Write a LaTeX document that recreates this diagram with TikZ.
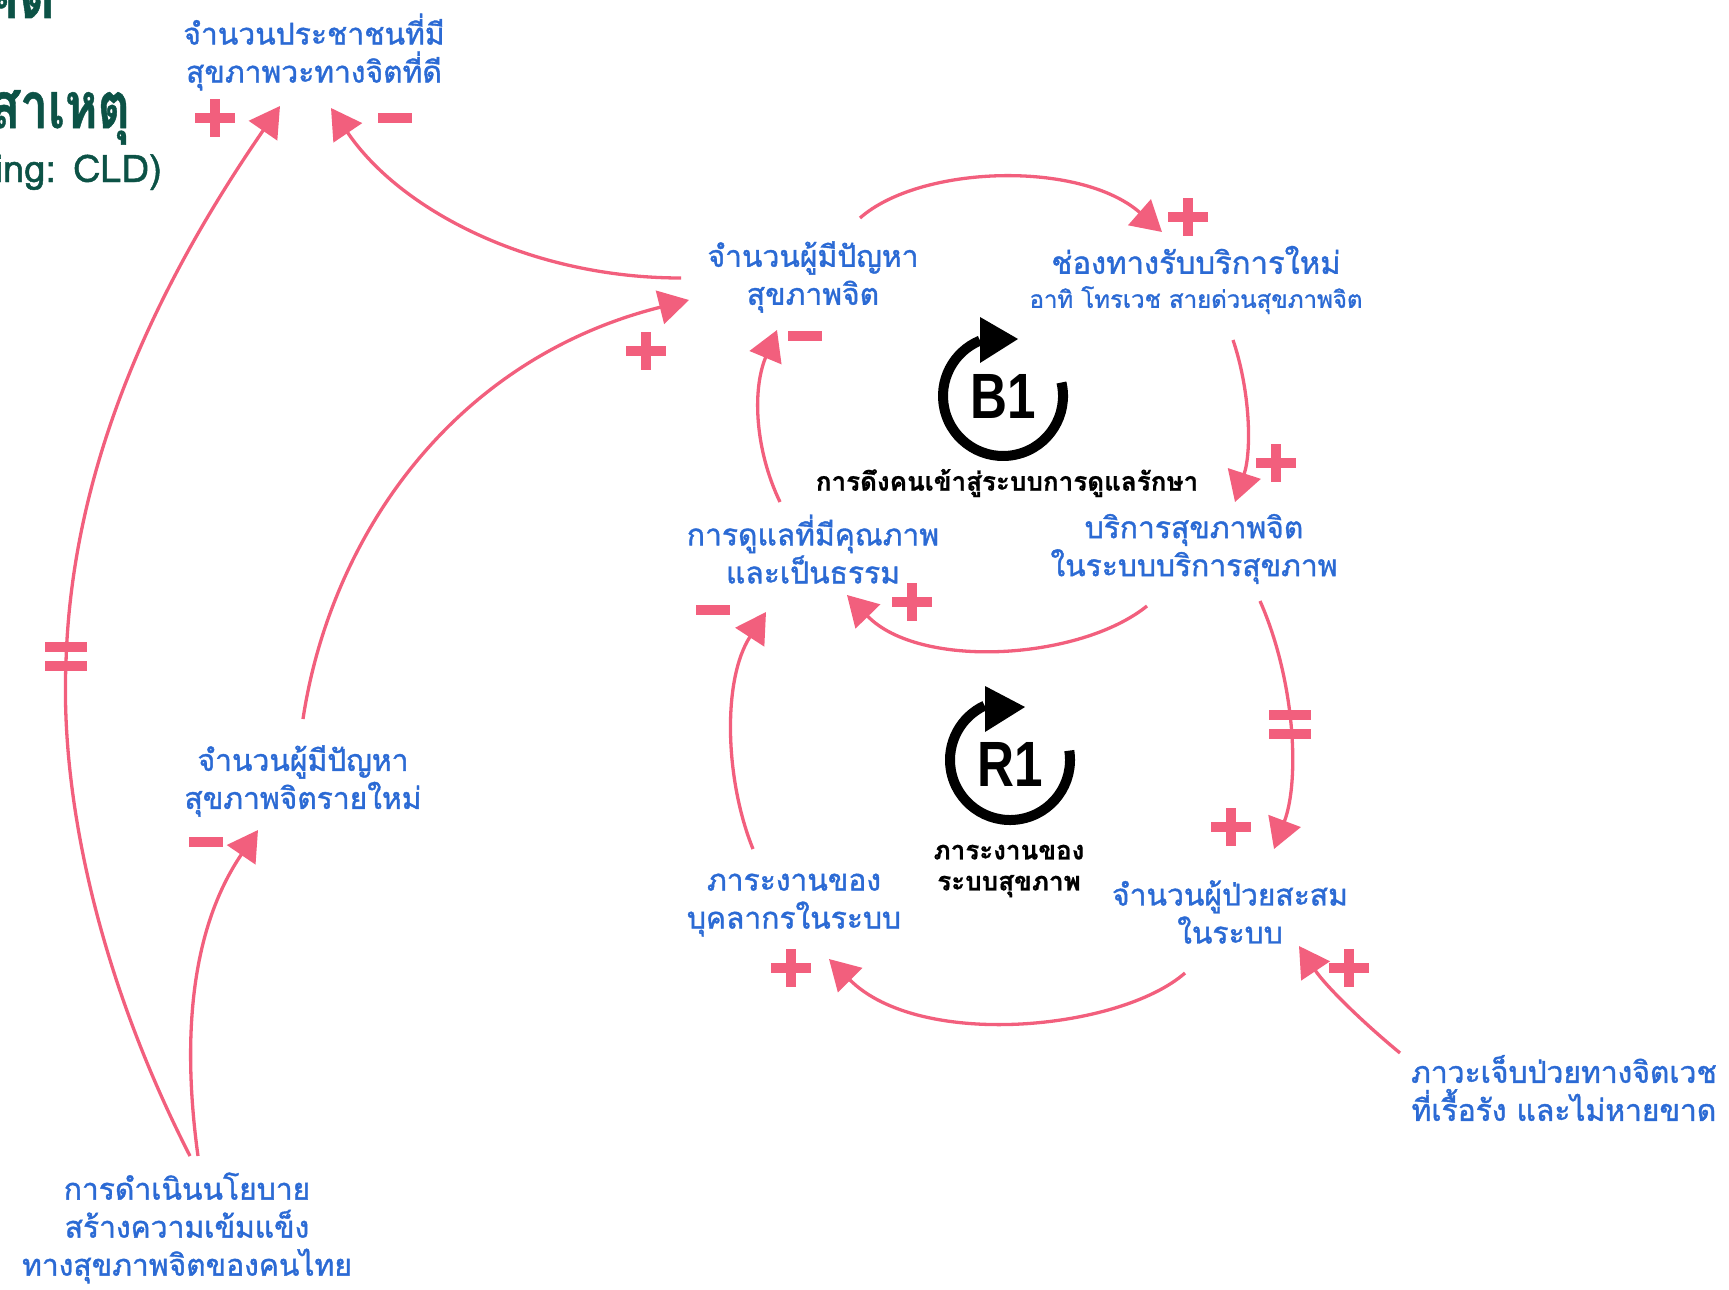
\documentclass[tikz,border=0pt]{standalone}
\usepackage{fontspec}
\newfontfamily\thai[Script=Thai]{Loma}
\newfontfamily\thaim[Script=Thai, FakeBold=1.3]{Loma}
\newfontfamily\thaib[Script=Thai, FakeBold=0.8]{Loma Bold}
\newfontfamily\symf{Liberation Sans}
\usetikzlibrary{arrows.meta}
\definecolor{cblue}{RGB}{43,106,212}
\definecolor{cpink}{RGB}{242,95,125}
\definecolor{cgreen}{RGB}{12,82,70}
\begin{document}
\begin{tikzpicture}[x=1pt,y=-1pt,
  lbl/.style={font=\thaim\fontsize{30}{38}\selectfont, text=cblue, align=center, inner sep=0pt},
  blk/.style={font=\thaib\fontsize{26}{31}\selectfont, text=black, align=center, inner sep=0pt},
  ttl/.style={font=\thaib\fontsize{64}{64}\selectfont, text=cgreen, inner sep=0pt, anchor=base east, xscale=0.86, transform shape},
  loopname/.style={font=\symf\bfseries\fontsize{64}{64}\selectfont, text=black, inner sep=0pt, xscale=0.8, transform shape},
  link/.style={draw=cpink, line width=3.3pt, -{Triangle[length=30pt,width=34pt]}},
  pplus/.pic={\fill[cpink] (-20,-5) rectangle (20,5); \fill[cpink] (-5,-19) rectangle (5,19);},
  pminus/.pic={\fill[cpink] (-17,-5) rectangle (17,5);},
  peq/.pic={\fill[cpink] (-21,-14.5) rectangle (21,-4.5); \fill[cpink] (-21,4.5) rectangle (21,14.5);},
  loopline/.style={draw=black, line width=10pt},
]
\useasboundingbox (0,0) rectangle (1729,1290);
\clip (0,0) rectangle (1729,1290);

% title fragments (cut by the frame, as in the reference)
\node[ttl] (t1) at (55,18) {แนวคิด};
\node[ttl, xscale=0.9] (t2) at (130,128) {เชิงสาเหตุ};
\node[font=\thaim\fontsize{38}{38}\selectfont, text=cgreen, inner sep=0pt, anchor=base east] (t3) at (162,182) {(Causal Loop Diagramming: CLD)};

% variables
\node[lbl] (good) at (314,52) {จำนวนประชาชนที่มี\\สุขภาพวะทางจิตที่ดี};
\node[lbl] (prob) at (813,277) {จำนวนผู้มีปัญหา\\สุขภาพจิต};
\node[lbl] (chan) at (1196,280) {\fontsize{31}{38}\selectfont ช่องทางรับบริการใหม่\\[-4pt]\fontsize{24}{30}\selectfont อาทิ โทรเวช สายด่วนสุขภาพจิต};
\node[lbl] (qual) at (813,549) {การดูแลที่มีคุณภาพ\\และเป็นธรรม};
\node[lbl] (serv) at (1194,549) {บริการสุขภาพจิต\\ในระบบบริการสุขภาพ};
\node[lbl] (work) at (794,905) {ภาระงานของ\\บุคลากรในระบบ};
\node[lbl] (acc) at (1230,912) {จำนวนผู้ป่วยสะสม\\ในระบบ};
\node[lbl, anchor=east] (chron) at (1717,1088) {ภาวะเจ็บป่วยทางจิตเวช\\ที่เรื้อรัง และไม่หายขาด};
\node[lbl] (newp) at (303,781) {จำนวนผู้มีปัญหา\\สุขภาพจิตรายใหม่};
\node[lbl] (pol) at (187,1228) {การดำเนินนโยบาย\\สร้างความเข้มแข็ง\\ทางสุขภาพจิตของคนไทย};

% loop labels
\node[blk] (b1lab) at (1007,483) {การดึงคนเข้าสู่ระบบการดูแลรักษา};
\node[blk] (r1lab) at (1009,871) {ภาระงานของ\\ระบบสุขภาพ};
\node[loopname] (b1) at (1003,396) {B1};
\node[loopname] (r1) at (1010,764) {R1};

\begin{scope}[shift={(1003,396)}, yscale=-1]
  \draw[loopline] (13:60) arc[start angle=13, end angle=-247.5, radius=60];
  \fill (-23,79) -- (-23,33) -- (15,57) -- cycle;
\end{scope}
\begin{scope}[shift={(1010,760)}, yscale=-1]
  \draw[loopline] (9:60) arc[start angle=9, end angle=-245, radius=60];
  \fill (-25,74) -- (-25,28) -- (15,53) -- cycle;
\end{scope}

% connector end points
\coordinate (a1s) at (681,278);  \coordinate (a1e) at (331,108);
\coordinate (a2s) at (190,1156); \coordinate (a2m) at (66,662); \coordinate (a2e) at (280,106);
\coordinate (a3s) at (198,1156); \coordinate (a3e) at (258,830);
\coordinate (a4s) at (303,719);  \coordinate (a4e) at (689,300);
\coordinate (a5s) at (860,218);  \coordinate (a5e) at (1162,232);
\coordinate (a6s) at (1233,340); \coordinate (a6e) at (1235,502);
\coordinate (a7s) at (1147,606); \coordinate (a7e) at (847,595);
\coordinate (a8s) at (780,502);  \coordinate (a8e) at (777,330);
\coordinate (a9s) at (1260,601); \coordinate (a9e) at (1274,849);
\coordinate (a10s) at (1185,973); \coordinate (a10e) at (829,959);
\coordinate (a11s) at (753,849); \coordinate (a11e) at (766,612);
\coordinate (a12s) at (1400,1053); \coordinate (a12e) at (1299,946);

% connectors
\draw[link] (a1s) .. controls (530,278) and (400,210) .. (a1e);
\draw[link] (a2s) .. controls (100,980) and (60,800) .. (a2m) .. controls (72,460) and (160,280) .. (a2e);
\draw[link] (a3s) .. controls (182,1040) and (190,930) .. (a3e);
\draw[link] (a4s) .. controls (330,540) and (450,360) .. (a4e);
\draw[link] (a5s) .. controls (920,165) and (1080,160) .. (a5e);
\draw[link] (a6s) .. controls (1250,390) and (1252,450) .. (a6e);
\draw[link] (a7s) .. controls (1080,660) and (920,670) .. (a7e);
\draw[link] (a8s) .. controls (755,450) and (752,390) .. (a8e);
\draw[link] (a9s) .. controls (1295,680) and (1300,780) .. (a9e);
\draw[link] (a10s) .. controls (1120,1030) and (920,1050) .. (a10e);
\draw[link] (a11s) .. controls (725,780) and (722,680) .. (a11e);
\draw[link] (a12s) .. controls (1360,1020) and (1325,985) .. (a12e);

% polarity marks
\pic at (215,118) {pplus};
\pic at (395,118) {pminus};
\pic at (66,656) {peq};
\pic at (206,842) {pminus};
\pic at (646,351) {pplus};
\pic at (1188,217) {pplus};
\pic at (1276,463) {pplus};
\pic at (912,602) {pplus};
\pic at (805,336) {pminus};
\pic at (1290,724) {peq};
\pic at (1231,827) {pplus};
\pic at (791,968) {pplus};
\pic at (713,610) {pminus};
\pic at (1349,968) {pplus};
\end{tikzpicture}
\end{document}
